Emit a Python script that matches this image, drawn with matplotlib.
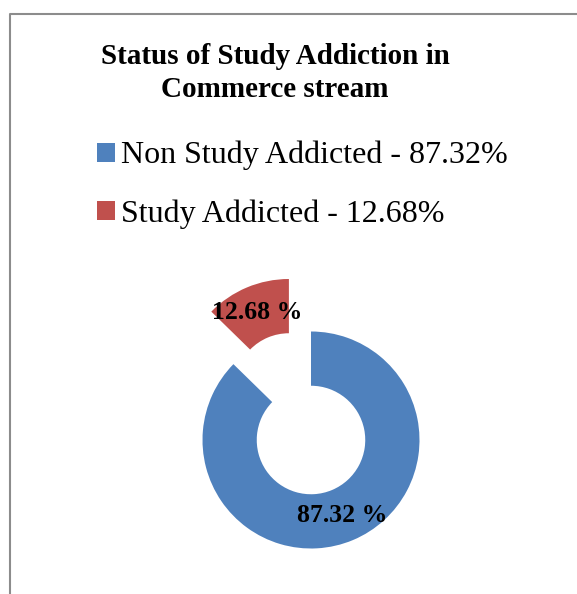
import matplotlib.pyplot as plt
from matplotlib.lines import Line2D

labels = ['Non Study Addicted - 87.32%', 'Study Addicted - 12.68%']
shares = [87.32, 12.68]
colors = ['#4F81BD', '#C0504D']

plt.rcParams['font.family'] = ['Liberation Serif', 'DejaVu Serif']

W, H = 577, 594
fig = plt.figure(figsize=(W / 100, H / 100), dpi=100)

# axes over the whole figure, 1 data unit = pie radius in pixels
R = 108.5
cx, cy = 311, H - 440
ax = fig.add_axes([0, 0, 1, 1])

wedges, texts, autotexts = ax.pie(
    shares, colors=colors, startangle=90, counterclock=False,
    explode=[0, 0.525], autopct='%.2f %%', pctdistance=0.75,
    wedgeprops=dict(width=0.5, edgecolor='none'),
    textprops=dict(fontsize=18.5, fontweight='bold', color='black'),
    frame=True)
ax.set_xlim(-cx / R, (W - cx) / R)
ax.set_ylim(-cy / R, (H - cy) / R)
ax.set_aspect('auto')
ax.axis('off')

fig.text(275 / W, 1 - 73 / H, 'Status of Study Addiction in\nCommerce stream',
         ha='center', va='center', fontsize=21, fontweight='bold',
         linespacing=1.3)

fig.legend(wedges, labels, loc='upper left',
           bbox_to_anchor=(97 / W, 1 - 141 / H), frameon=False,
           prop=dict(size=23), handlelength=0.55, handleheight=0.55,
           handletextpad=0.2, labelspacing=0.9, borderpad=0, borderaxespad=0)

# frame line on the left and top
fig.add_artist(Line2D([10 / W, 10 / W, 1], [0, 1 - 14 / H, 1 - 14 / H],
                      color='#8c8c8c', lw=1.5))

fig.savefig('out.png', dpi=100)
